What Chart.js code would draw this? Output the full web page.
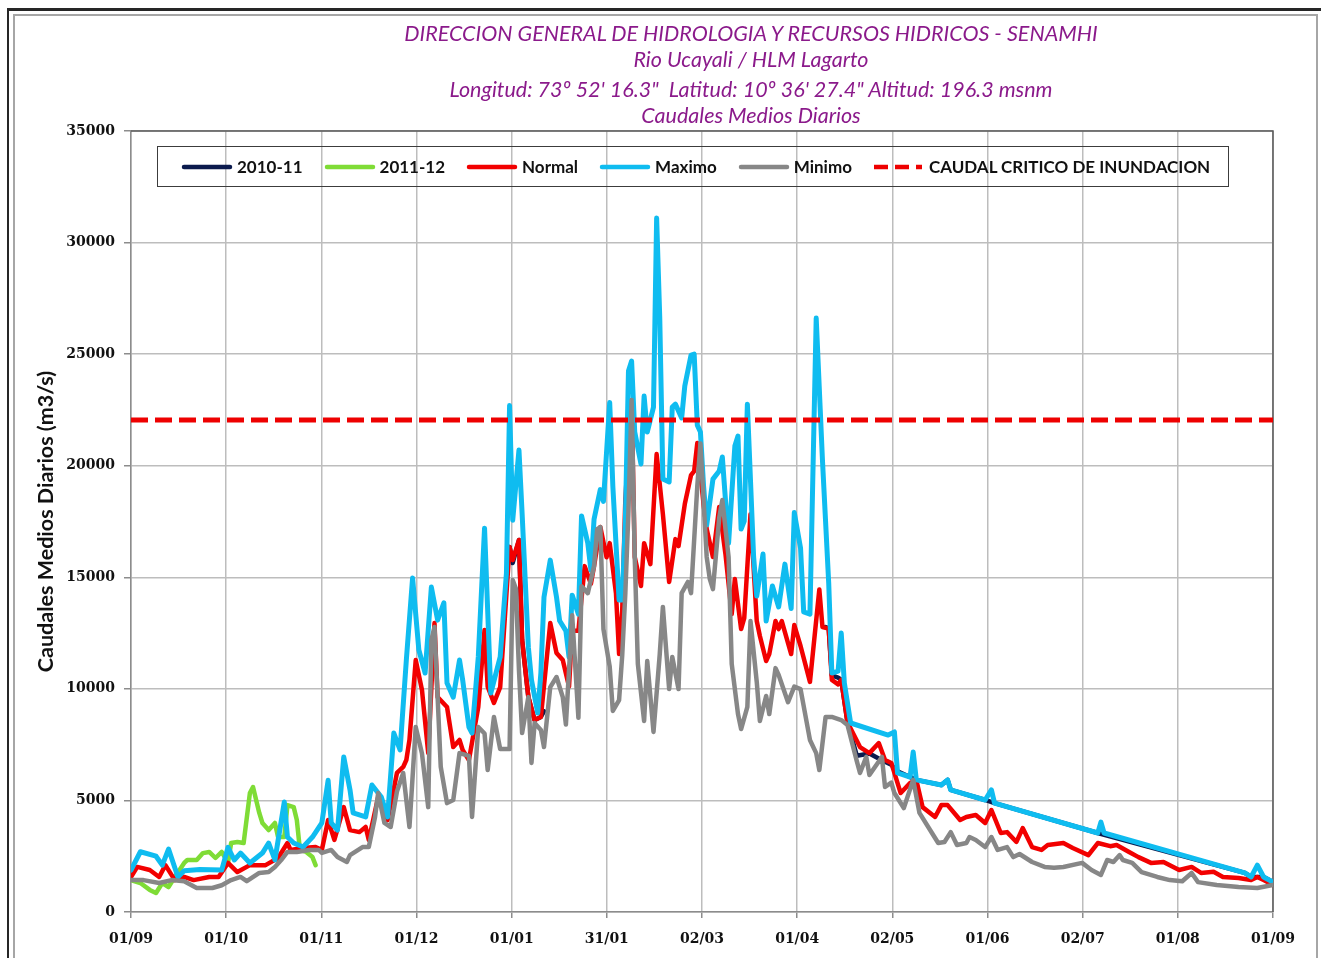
<!DOCTYPE html>
<html lang="es">
<head>
<meta charset="utf-8">
<title>Caudales Medios Diarios - HLM Lagarto</title>
<script src="https://cdn.jsdelivr.net/npm/chart.js@4.4.1/dist/chart.umd.min.js"></script>
<style>
    html, body { margin: 0; padding: 0; background: #fff; }
    #hoja { position: relative; width: 1321px; height: 958px; overflow: hidden; background: #fff; }
    .marco-ext { position: absolute; left: 7px; top: 8px; width: 1340px; height: 1000px;
                 border-top: 3px solid #262626; border-left: 2px solid #262626; }
    .marco-int { position: absolute; left: 13px; top: 14px; width: 1301px; height: 1000px;
                 border: 2px solid #a6a6a6; }
    #grafico { position: absolute; left: 0; top: 0; }
    .titulo { position: absolute; left: 351px; width: 800px; text-align: center; white-space: pre;
              font: italic 21.5px Lato, sans-serif; color: #8b1a8b; line-height: 26px; }
    #leyenda { position: absolute; left: 157px; top: 146px; width: 1072px; height: 41px;
               box-sizing: border-box; border: 1.5px solid #3c3c3c; padding-left: 22px;
               display: flex; align-items: center; white-space: nowrap; overflow: visible; }
    #leyenda .item { display: flex; align-items: center; flex: 0 0 auto; margin-right: 20px;
                     font: bold 17px Lato, sans-serif; color: #111; }
    #leyenda svg { flex: 0 0 auto; margin-right: 3px; }
</style>
</head>
<body>
<div id="hoja">
    <div class="marco-ext"></div>
    <div class="marco-int"></div>
    <canvas id="grafico" width="1321" height="958"></canvas>
    <div id="titulos"></div>
    <div id="leyenda"></div>
</div>

<script>
// Ejes: dias desde el 01/09, con una marca cada doceavo del año
const diasMarcas = [0, 30.42, 60.83, 91.25, 121.67, 152.08, 182.5, 212.92, 243.33, 273.75, 304.17, 334.58, 365];
const etiquetasFecha = ['01/09', '01/10', '01/11', '01/12', '01/01', '31/01', '02/03',
                        '01/04', '02/05', '01/06', '02/07', '01/08', '01/09'];
const marcasCaudal = [0, 5000, 10000, 15000, 20000, 25000, 30000, 35000];

const titulos = [
    'DIRECCION GENERAL DE HIDROLOGIA Y RECURSOS HIDRICOS - SENAMHI',
    'Rio Ucayali / HLM Lagarto',
    'Longitud: 73º 52\' 16.3"  Latitud: 10º 36\' 27.4" Altitud: 196.3 msnm',
    'Caudales Medios Diarios'
];
const etiquetasSeries = ['2010-11', '2011-12', 'Normal', 'Maximo', 'Minimo', 'CAUDAL CRITICO DE INUNDACION'];

// Caudales [dia, m3/s]
const serie2010 = [
    [121, 16360], [122, 15640], [124, 16670], [125, 12190], [127, 9630], [129, 8600], [131, 8740], [132, 9000],
    [133, null],
    [222, 12770], [223, 12700], [224, 10600], [226, 10500], [227, 10400], [229, 8500], [232, 7000], [236, 7100],
    [240, 6800], [243, 6600], [245, 6300], [249, 6050], [251, 5920], [259, 5690], [261, 5920], [262, 5470],
    [273, 5020], [276, 4880], [309, 3540], [356, 1750], [358, 1570], [362, 1570], [365, 1340]
];

const serie2011 = [
    [0, 1430], [3, 1300], [6, 990], [8, 850], [10, 1300], [12, 1120], [14, 1570], [17, 2200], [18, 2330],
    [21, 2330], [23, 2640], [25, 2690], [27, 2420], [29, 2690], [31, 2200], [32, 3090], [34, 3140], [36, 3090],
    [38, 5330], [39, 5600], [41, 4440], [42, 3990], [44, 3670], [46, 3990], [47, 3360], [49, 3360], [50, 4790],
    [52, 4700], [53, 4120], [54, 2780], [56, 2690], [58, 2460], [59, 2100]
];

const normal = [
    [0, 1570], [2, 2020], [6, 1880], [9, 1570], [11, 2100], [14, 1430], [17, 1570], [20, 1430], [25, 1570],
    [28, 1570], [31, 2200], [34, 1790], [38, 2100], [43, 2100], [47, 2420], [50, 3090], [51, 2780], [55, 2870],
    [59, 2910], [61, 2780], [63, 4120], [65, 3230], [68, 4700], [70, 3670], [73, 3580], [75, 3810], [76, 3230],
    [79, 5150], [82, 4120], [85, 6230], [87, 6500], [88, 6810], [89, 7710], [91, 11290], [93, 9950], [95, 7120],
    [97, 12950], [98, 9630], [101, 9190], [103, 7390], [105, 7710], [106, 7260], [108, 6810], [111, 9190],
    [113, 12640], [114, 10100], [116, 9370], [118, 10080], [121, 16360], [122, 15770], [124, 16670], [125, 12190],
    [127, 9630], [129, 8600], [131, 8740], [134, 12950], [136, 11610], [138, 11290], [140, 10100], [141, 12600],
    [143, 12600], [145, 15500], [147, 14700], [148, 15500], [150, 17250], [152, 15900], [153, 16530], [155, 14290],
    [156, 11560], [157, 13490], [158, 18500], [160, 22940], [161, 15910], [163, 14610], [164, 16530], [166, 15590],
    [168, 20520], [170, 17830], [172, 14790], [174, 16710], [175, 16400], [177, 18280], [179, 19580], [180, 19760],
    [181, 21020], [183, 18280], [184, 17160], [186, 15910], [187, 17030], [188, 18150], [190, 16040], [192, 13350],
    [193, 14920], [195, 12680], [196, 13170], [198, 17830], [200, 13040], [201, 12370], [203, 11250], [204, 11560],
    [206, 13040], [207, 12680], [208, 13040], [211, 11560], [212, 12860], [214, 11920], [217, 10310], [220, 14450],
    [221, 12770], [223, 12700], [224, 10400], [226, 10200], [227, 10400], [229, 8500], [233, 7390], [236, 7120],
    [239, 7570], [241, 6810], [243, 6680], [246, 5330], [249, 5780], [251, 5920], [253, 4700], [257, 4260],
    [259, 4790], [261, 4790], [265, 4120], [267, 4260], [270, 4350], [273, 3990], [275, 4570], [278, 3540],
    [280, 3580], [283, 3140], [285, 3760], [288, 2910], [291, 2780], [293, 3000], [298, 3090], [301, 2870],
    [306, 2550], [309, 3090], [313, 2950], [315, 3000], [319, 2690], [322, 2460], [326, 2200], [330, 2240],
    [335, 1880], [339, 2020], [342, 1750], [346, 1800], [349, 1570], [354, 1520], [358, 1430], [360, 1570],
    [362, 1430], [365, 1210]
];

const maximo = [
    [0, 1880], [3, 2700], [8, 2500], [10, 2100], [12, 2820], [15, 1570], [17, 1850], [22, 1900], [29, 1880],
    [31, 2900], [33, 2330], [35, 2640], [38, 2200], [42, 2640], [44, 3090], [46, 2330], [49, 4930], [50, 3360],
    [52, 3090], [55, 2910], [58, 3360], [61, 3990], [63, 5900], [64, 3990], [66, 3670], [68, 6950], [70, 5470],
    [71, 4440], [75, 4260], [77, 5690], [80, 5150], [82, 4260], [84, 8020], [86, 7260], [88, 11290], [90, 14970],
    [92, 11740], [94, 10710], [96, 14560], [98, 13080], [100, 13850], [101, 10260], [103, 9630], [105, 11290],
    [106, 10400], [108, 8290], [109, 8020], [111, 11430], [113, 17200], [115, 9810], [118, 11430], [120, 15190],
    [121, 22700], [122, 17560], [124, 20700], [125, 17880], [127, 11870], [128, 10400], [130, 8920], [131, 10710],
    [132, 14110], [134, 15770], [136, 14110], [137, 13050], [139, 12600], [140, 11430], [141, 14200], [143, 13350],
    [144, 17750], [146, 16530], [147, 15320], [148, 17600], [150, 18930], [151, 18400], [153, 22830], [154, 19090],
    [156, 13980], [157, 13980], [158, 17520], [159, 24240], [160, 24690], [161, 21510], [163, 20080], [164, 23120],
    [165, 21510], [167, 22630], [168, 31100], [169, 26620], [170, 19400], [172, 19270], [173, 22630], [174, 22760],
    [176, 22140], [177, 23570], [179, 24960], [180, 25000], [181, 21820], [182, 21510], [183, 19090], [184, 17340],
    [186, 19400], [188, 19760], [189, 20390], [191, 16530], [193, 20880], [194, 21330], [195, 17160], [196, 17520],
    [197, 22760], [199, 15910], [200, 14160], [202, 16040], [203, 13040], [205, 14610], [207, 13670], [209, 15590],
    [211, 13600], [212, 17900], [214, 16300], [215, 13450], [217, 13350], [219, 26620], [221, 20250], [223, 14740],
    [224, 10710], [226, 10800], [227, 12500], [228, 10260], [230, 8470], [242, 7930], [244, 8070], [245, 6230],
    [249, 6050], [250, 7170], [251, 5920], [259, 5690], [261, 5920], [262, 5470], [273, 5020], [275, 5470],
    [276, 4880], [309, 3540], [310, 4030], [311, 3540], [356, 1750], [358, 1570], [360, 2100], [362, 1570],
    [365, 1340]
];

const minimo = [
    [0, 1430], [4, 1430], [9, 1300], [13, 1430], [17, 1380], [21, 1075], [26, 1075], [29, 1200], [32, 1430],
    [35, 1570], [37, 1380], [41, 1750], [44, 1790], [46, 2020], [48, 2330], [50, 2690], [53, 2690], [57, 2780],
    [60, 2780], [61, 2650], [64, 2780], [66, 2460], [69, 2240], [70, 2550], [74, 2910], [76, 2910], [78, 4260],
    [79, 5330], [81, 3990], [83, 3810], [85, 5400], [87, 6230], [89, 3810], [91, 8290], [93, 7100], [95, 4700],
    [96, 12190], [97, 12770], [99, 6500], [101, 4880], [103, 5020], [105, 7120], [108, 7000], [109, 4260],
    [111, 8290], [113, 8000], [114, 6360], [116, 8740], [118, 7300], [121, 7300], [122, 14880], [123, 14500],
    [124, 10840], [125, 8020], [127, 9630], [128, 6680], [129, 8470], [131, 8160], [132, 7390], [134, 10080],
    [136, 10530], [138, 9630], [139, 8400], [141, 13300], [143, 8700], [144, 14600], [146, 14290], [148, 15500],
    [149, 17160], [150, 17250], [151, 12680], [153, 11000], [154, 9010], [156, 9500], [157, 11500], [158, 14290],
    [159, 18000], [160, 22940], [161, 15910], [162, 11110], [164, 8560], [165, 11250], [167, 8070], [169, 11560],
    [170, 13670], [172, 9990], [173, 11430], [175, 9990], [176, 14290], [178, 14790], [179, 14290], [181, 19090],
    [182, 21000], [184, 15910], [185, 14920], [186, 14470], [188, 17660], [189, 18460], [191, 15910], [192, 11110],
    [194, 8870], [195, 8200], [197, 9190], [198, 13040], [200, 10310], [201, 8560], [203, 9680], [204, 8870],
    [206, 10930], [207, 10620], [210, 9400], [212, 10100], [214, 9990], [217, 7710], [219, 7120], [220, 6360],
    [222, 8740], [224, 8740], [227, 8600], [229, 8380], [232, 6750], [233, 6230], [235, 6950], [236, 6140],
    [240, 6950], [241, 5600], [243, 5800], [244, 5330], [247, 4660], [250, 5920], [252, 4440], [256, 3540],
    [258, 3090], [260, 3140], [262, 3580], [264, 3000], [267, 3090], [268, 3360], [270, 3230], [273, 2910],
    [275, 3360], [277, 2780], [280, 2910], [282, 2460], [284, 2600], [288, 2240], [292, 2020], [295, 1980],
    [298, 2020], [304, 2200], [307, 1880], [310, 1660], [312, 2330], [314, 2240], [316, 2550], [317, 2330],
    [320, 2200], [323, 1790], [328, 1570], [332, 1430], [336, 1380], [339, 1750], [341, 1340], [347, 1210],
    [354, 1120], [360, 1075], [365, 1210]
];

const caudalCritico = 22050;

const aPuntos = pares => pares.map(([d, q]) => ({ x: d, y: q }));

// Titulos centrados sobre la hoja
const centrosTitulo = [33, 59, 89, 115];
titulos.forEach((texto, i) => {
    const linea = document.createElement('div');
    linea.className = 'titulo';
    linea.style.top = (centrosTitulo[i] - 13) + 'px';
    linea.textContent = texto;
    document.getElementById('titulos').appendChild(linea);
});

// Recuadro del area de trazado (lados superior y derecho)
const bordeArea = {
    id: 'bordeArea',
    beforeDatasetsDraw(chart) {
        const { ctx, chartArea: a } = chart;
        ctx.save();
        ctx.strokeStyle = '#5a5a5a';
        ctx.lineWidth = 1.5;
        ctx.beginPath();
        ctx.moveTo(a.left, a.top);
        ctx.lineTo(a.right, a.top);
        ctx.lineTo(a.right, a.bottom);
        ctx.stroke();
        ctx.restore();
    }
};

const fuenteEjes = { family: 'DejaVu Serif', size: 14, weight: 'bold' };

const grafico = new Chart(document.getElementById('grafico'), {
    type: 'line',
    data: {
        datasets: [
            { label: etiquetasSeries[0], data: aPuntos(serie2010), borderColor: '#0b1a4d', borderWidth: 4.5, order: 5 },
            { label: etiquetasSeries[1], data: aPuntos(serie2011), borderColor: '#7fdc36', borderWidth: 4.5, order: 4 },
            { label: etiquetasSeries[2], data: aPuntos(normal), borderColor: '#f20000', borderWidth: 4.5, order: 3 },
            { label: etiquetasSeries[3], data: aPuntos(maximo), borderColor: '#0fbcf0', borderWidth: 5, order: 2 },
            { label: etiquetasSeries[4], data: aPuntos(minimo), borderColor: '#878787', borderWidth: 4.5, order: 1 },
            { label: etiquetasSeries[5], data: [{ x: 0, y: caudalCritico }, { x: 365, y: caudalCritico }],
              borderColor: '#ee0000', borderWidth: 5, borderDash: [17, 7], borderCapStyle: 'butt', order: 0 }
        ]
    },
    options: {
        responsive: false,
        animation: false,
        layout: { padding: { top: 131, left: 20, right: 48, bottom: 0 } },
        elements: {
            point: { radius: 0 },
            line: { tension: 0, borderCapStyle: 'round', borderJoinStyle: 'round' }
        },
        plugins: {
            legend: { display: false },
            title: { display: false },
            tooltip: { enabled: false }
        },
        scales: {
            x: {
                type: 'linear',
                min: 0,
                max: 365,
                afterBuildTicks: scale => { scale.ticks = diasMarcas.map(v => ({ value: v })); },
                afterFit: scale => { scale.height = 46; },
                ticks: {
                    autoSkip: false,
                    maxRotation: 0,
                    padding: 13,
                    color: '#111',
                    font: fuenteEjes,
                    callback: (v, i) => etiquetasFecha[i]
                },
                grid: { color: '#bdbdbd', lineWidth: 1.5, tickLength: 6, tickColor: '#8c8c8c' },
                border: { color: '#8c8c8c', width: 1.5 }
            },
            y: {
                min: 0,
                max: 35000,
                afterBuildTicks: scale => { scale.ticks = marcasCaudal.map(v => ({ value: v })); },
                afterFit: scale => { scale.width = 111; },
                ticks: {
                    padding: 9,
                    color: '#111',
                    font: fuenteEjes,
                    callback: v => String(v)
                },
                title: {
                    display: true,
                    text: 'Caudales Medios Diarios (m3/s)',
                    color: '#111',
                    font: { family: 'Lato', size: 21.5, weight: 'bold' },
                    padding: { top: 13, bottom: 0 }
                },
                grid: { color: '#bdbdbd', lineWidth: 1.5, tickLength: 7, tickColor: '#8c8c8c' },
                border: { color: '#8c8c8c', width: 1.5 }
            }
        }
    },
    plugins: [bordeArea]
});

// Leyenda en recuadro dentro del area de trazado
const leyenda = document.getElementById('leyenda');
grafico.data.datasets.forEach(ds => {
    const item = document.createElement('span');
    item.className = 'item';
    const trazo = ds.borderDash
        ? `x1="2" x2="50" stroke-dasharray="14 7" stroke-linecap="butt"`
        : `x1="4" x2="50" stroke-linecap="round"`;
    item.innerHTML =
        `<svg width="54" height="10"><line y1="5" y2="5" stroke="${ds.borderColor}" ` +
        `stroke-width="4.5" ${trazo}/></svg>`;
    const texto = document.createElement('span');
    texto.textContent = ds.label;
    item.appendChild(texto);
    leyenda.appendChild(item);
});
</script>
</body>
</html>
